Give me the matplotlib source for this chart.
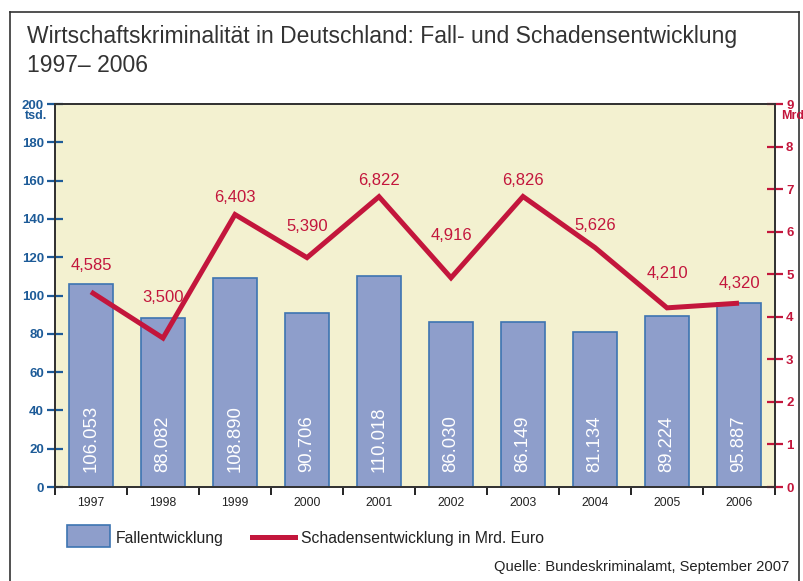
import matplotlib
matplotlib.use("Agg")
import matplotlib.pyplot as plt
from matplotlib.patches import Rectangle
from matplotlib.lines import Line2D

years = ["1997", "1998", "1999", "2000", "2001", "2002", "2003", "2004", "2005", "2006"]
faelle = [106.053, 88.082, 108.890, 90.706, 110.018, 86.030, 86.149, 81.134, 89.224, 95.887]
faelle_labels = ["106.053", "88.082", "108.890", "90.706", "110.018",
                 "86.030", "86.149", "81.134", "89.224", "95.887"]
schaden = [4.585, 3.500, 6.403, 5.390, 6.822, 4.916, 6.826, 5.626, 4.210, 4.320]
schaden_labels = ["4,585", "3,500", "6,403", "5,390", "6,822",
                  "4,916", "6,826", "5,626", "4,210", "4,320"]
left_ticks = [0, 20, 40, 60, 80, 100, 120, 140, 160, 180, 200]
right_ticks = [0, 1, 2, 3, 4, 5, 6, 7, 8, 9]

# label offsets above the line points (pixels)
label_dy = [26, 41, 17, 31, 16, 42, 16, 22, 34, 20]

sans = ["Liberation Sans", "DejaVu Sans"]

BG = "#f3f1d0"
BAR = "#8e9ecb"
BAR_EDGE = "#3d74b1"
RED = "#c3163c"
BLUE = "#1d5b98"

fig = plt.figure(figsize=(8.04, 5.81), dpi=100)
ax = fig.add_axes([55 / 804, 1 - 487 / 581, 720 / 804, 383 / 581])
ax.set_facecolor(BG)
ax2 = ax.twinx()

x = list(range(len(years)))
ax.bar(x, faelle, width=0.6, color=BAR, edgecolor=BAR_EDGE, linewidth=1.2, zorder=2)
for xi, lab in zip(x, faelle_labels):
    ax.text(xi, 8, lab, rotation=90, ha="center", va="bottom", color="white",
            fontsize=13.3, family=sans, zorder=3)

ax2.plot(x, schaden, color=RED, linewidth=3.6, solid_joinstyle="miter",
         solid_capstyle="butt", zorder=4)
for xi, v, lab, dy in zip(x, schaden, schaden_labels, label_dy):
    ax2.annotate(lab, (xi, v), xytext=(0, dy), textcoords="offset pixels",
                 ha="center", va="center", color=RED, fontsize=12, family=sans)

ax.set_xlim(-0.5, len(years) - 0.5)
ax.set_ylim(0, 200)
ax2.set_ylim(0, 9)

ax.set_yticks(left_ticks)
ax.set_yticklabels([str(t) for t in left_ticks], color=BLUE, fontsize=9.5,
                   family=sans, fontweight="bold")
ax.tick_params(axis="y", direction="inout", length=12, width=1.6, color=BLUE, pad=2)
ax2.set_yticks(right_ticks)
ax2.set_yticklabels([str(t) for t in right_ticks], color=RED, fontsize=9.5,
                    family=sans, fontweight="bold")
ax2.tick_params(axis="y", direction="inout", length=12, width=1.6, color=RED, pad=2)

ax.set_xticks([i + 0.5 for i in range(-1, len(years))], minor=False)
ax.set_xticklabels([])
ax.tick_params(axis="x", direction="out", length=6, width=1.4, color="#222222")
ax.set_xticks(x, minor=True)
ax.set_xticklabels(years, minor=True, fontsize=8.8, family=sans, color="#222222")
ax.tick_params(axis="x", which="minor", length=0, pad=7)

for a in (ax, ax2):
    for s in a.spines.values():
        s.set_color("#333333")
        s.set_linewidth(1.3)
ax.set_axisbelow(True)

fig.text(36 / 804, 1 - 116 / 581, "tsd.", color=BLUE, fontsize=9, family=sans,
         fontweight="bold", ha="center", va="center")
fig.text(793 / 804, 1 - 116 / 581, "Mrd", color=RED, fontsize=9, family=sans,
         fontweight="bold", ha="center", va="center")

# title
fig.text(27 / 804, 1 - 37 / 581, "Wirtschaftskriminalität in Deutschland: Fall- und Schadensentwicklung",
         fontsize=16.5, family=sans, color="#333333", ha="left", va="center")
fig.text(27 / 804, 1 - 66 / 581, "1997– 2006",
         fontsize=16.5, family=sans, color="#333333", ha="left", va="center")

# legend
fig.patches.append(Rectangle((67 / 804, 1 - 547 / 581), 43 / 804, 22 / 581,
                             transform=fig.transFigure, facecolor=BAR,
                             edgecolor=BAR_EDGE, linewidth=1.2))
fig.text(116 / 804, 1 - 538 / 581, "Fallentwicklung", fontsize=11.3, family=sans,
         color="#222222", ha="left", va="center")
fig.lines.append(Line2D([252 / 804, 295 / 804], [1 - 537 / 581, 1 - 537 / 581],
                        transform=fig.transFigure, color=RED, linewidth=3.6))
fig.text(301 / 804, 1 - 538 / 581, "Schadensentwicklung in Mrd. Euro", fontsize=11.3,
         family=sans, color="#222222", ha="left", va="center")

fig.text(789 / 804, 1 - 567 / 581, "Quelle: Bundeskriminalamt, September 2007",
         fontsize=10.6, family=sans, color="#222222", ha="right", va="center")

# outer frame
for xs, ys in [([10, 10], [581, 12]), ([10, 799], [12, 12]), ([799, 799], [12, 581])]:
    fig.lines.append(Line2D([v / 804 for v in xs], [1 - v / 581 for v in ys],
                            transform=fig.transFigure, color="#333333", linewidth=1.2))

fig.savefig("out.png", dpi=100)
